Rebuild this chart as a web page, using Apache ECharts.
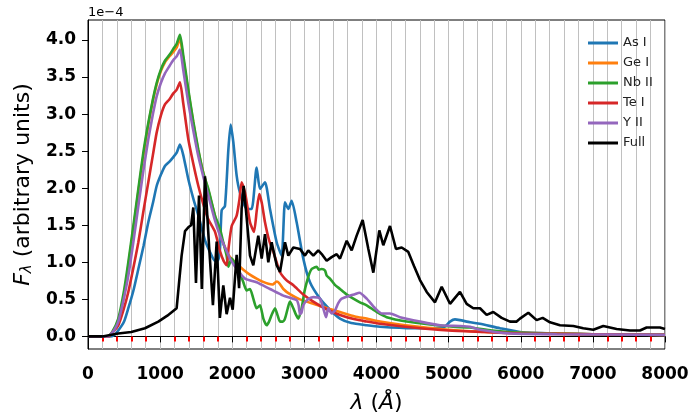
<!DOCTYPE html>
<html>
<head>
<meta charset="utf-8">
<script src="https://cdn.jsdelivr.net/npm/echarts@6/dist/echarts.min.js"></script>
<style>
  html, body { margin: 0; padding: 0; background: #fff; }
  #chart { width: 693px; height: 419px; }
</style>
</head>
<body>
<div id="chart"></div>
<script>
// wavelength (Angstrom), flux in units of 1e-4
const asI = [[0,0],[300,0],[350,0.01],[420,0.08],[500,0.2],[559,0.38],[630,0.62],[698,0.91],[770,1.22],[836,1.54],[900,1.8],[952,2.03],[1010,2.18],[1067,2.3],[1130,2.36],[1183,2.42],[1230,2.48],[1275,2.59],[1320,2.45],[1391,2.12],[1460,1.86],[1530,1.63],[1622,1.3],[1700,1.12],[1760,1.02],[1800,1.02],[1830,1.18],[1853,1.7],[1899,1.76],[1946,2.52],[1978,2.86],[2015,2.62],[2061,2.17],[2107,1.94],[2200,1.72],[2269,1.72],[2338,2.28],[2385,1.99],[2454,2.08],[2523,1.72],[2616,1.27],[2685,1.09],[2731,1.81],[2777,1.72],[2824,1.83],[2893,1.54],[2985,1.05],[3078,0.73],[3216,0.51],[3355,0.36],[3494,0.24],[3650,0.18],[3864,0.15],[4048,0.13],[4500,0.11],[4925,0.12],[5019,0.2],[5088,0.23],[5157,0.22],[5300,0.19],[5435,0.17],[5712,0.11],[5989,0.06],[6500,0.04],[7000,0.03],[8000,0.02]];
const geI = [[0,0],[280,0],[340,0.05],[420,0.22],[500,0.55],[559,0.95],[630,1.45],[698,1.95],[770,2.45],[836,2.85],[900,3.18],[952,3.4],[1010,3.58],[1067,3.7],[1130,3.78],[1183,3.84],[1230,3.9],[1275,4.02],[1320,3.75],[1391,3.3],[1460,2.88],[1530,2.5],[1600,2.2],[1668,1.97],[1761,1.62],[1830,1.38],[1900,1.2],[1969,1.07],[2061,0.98],[2154,0.9],[2250,0.83],[2338,0.78],[2420,0.74],[2500,0.71],[2560,0.7],[2616,0.74],[2650,0.72],[2708,0.64],[2800,0.57],[2939,0.5],[3124,0.44],[3355,0.37],[3494,0.33],[3700,0.27],[3864,0.24],[4048,0.2],[4400,0.15],[5000,0.09],[5500,0.06],[6000,0.05],[7000,0.03],[8000,0.02]];
const nbII = [[0,0],[270,0],[330,0.05],[420,0.24],[500,0.62],[559,1.0],[630,1.5],[698,1.99],[770,2.5],[836,2.88],[900,3.2],[952,3.42],[1010,3.6],[1067,3.72],[1130,3.8],[1183,3.88],[1230,3.95],[1275,4.07],[1320,3.8],[1391,3.33],[1460,2.9],[1530,2.52],[1600,2.2],[1668,1.99],[1761,1.63],[1830,1.45],[1880,1.25],[1922,1.09],[1946,0.94],[1992,1.05],[2030,1.0],[2061,0.96],[2110,0.85],[2154,0.73],[2200,0.62],[2246,0.64],[2292,0.51],[2338,0.38],[2385,0.42],[2431,0.24],[2477,0.15],[2510,0.2],[2546,0.29],[2593,0.38],[2630,0.28],[2662,0.2],[2700,0.2],[2731,0.24],[2770,0.38],[2800,0.47],[2847,0.38],[2880,0.3],[2916,0.24],[2962,0.38],[3000,0.6],[3032,0.73],[3070,0.85],[3101,0.91],[3140,0.93],[3170,0.94],[3200,0.9],[3240,0.91],[3286,0.89],[3309,0.82],[3355,0.78],[3420,0.7],[3494,0.64],[3580,0.57],[3679,0.51],[3770,0.46],[3864,0.42],[4002,0.33],[4141,0.26],[4418,0.2],[4741,0.16],[5065,0.13],[5296,0.12],[5600,0.08],[6000,0.05],[7000,0.03],[8000,0.02]];
const teI = [[0,0],[290,0],[328,0.04],[420,0.15],[490,0.35],[559,0.6],[630,0.93],[698,1.27],[770,1.7],[836,2.08],[900,2.45],[952,2.75],[1010,2.98],[1067,3.13],[1130,3.2],[1183,3.28],[1230,3.33],[1275,3.43],[1320,3.15],[1391,2.66],[1460,2.33],[1530,2.03],[1600,1.78],[1668,1.58],[1761,1.41],[1830,1.15],[1880,1.02],[1922,0.96],[1950,1.2],[1992,1.49],[2061,1.63],[2100,1.85],[2130,2.08],[2160,2.0],[2186,1.9],[2246,1.54],[2301,1.41],[2340,1.7],[2375,1.92],[2410,1.8],[2454,1.54],[2510,1.3],[2570,1.14],[2662,0.87],[2750,0.76],[2847,0.69],[2980,0.57],[3124,0.47],[3300,0.37],[3494,0.29],[3700,0.23],[3864,0.2],[4048,0.17],[4500,0.12],[5000,0.08],[5500,0.06],[6000,0.04],[7000,0.03],[8000,0.02]];
const yII = [[0,0],[280,0],[305,0.02],[360,0.08],[420,0.2],[490,0.48],[559,0.82],[630,1.28],[698,1.76],[770,2.25],[836,2.66],[900,3.0],[952,3.24],[1010,3.42],[1067,3.55],[1130,3.65],[1183,3.73],[1230,3.78],[1275,3.87],[1320,3.6],[1391,3.15],[1460,2.78],[1530,2.43],[1600,2.15],[1668,1.9],[1750,1.6],[1830,1.36],[1900,1.2],[1969,1.05],[2070,0.9],[2177,0.78],[2338,0.73],[2523,0.64],[2708,0.55],[2893,0.49],[2920,0.42],[2939,0.3],[2960,0.32],[2985,0.42],[3050,0.5],[3124,0.53],[3216,0.51],[3262,0.38],[3300,0.26],[3332,0.38],[3378,0.31],[3424,0.35],[3470,0.45],[3517,0.51],[3632,0.55],[3700,0.57],[3762,0.59],[3864,0.51],[3979,0.38],[4071,0.31],[4187,0.31],[4325,0.26],[4603,0.2],[4880,0.15],[5157,0.14],[5296,0.13],[5435,0.09],[5851,0.04],[6500,0.03],[8000,0.02]];
const full = [[0,0],[200,0],[420,0.04],[600,0.06],[790,0.11],[975,0.2],[1100,0.28],[1229,0.38],[1260,0.7],[1298,1.09],[1345,1.42],[1400,1.48],[1430,1.5],[1460,1.74],[1497,0.72],[1539,1.9],[1578,0.64],[1622,2.16],[1680,1.2],[1732,0.42],[1784,1.28],[1828,0.25],[1876,0.69],[1922,0.3],[1969,0.52],[2006,0.36],[2061,1.1],[2095,0.65],[2130,1.72],[2158,2.03],[2200,1.6],[2246,1.09],[2292,0.96],[2361,1.36],[2408,1.05],[2454,1.38],[2500,1.0],[2546,1.27],[2616,0.96],[2662,0.87],[2731,1.27],[2777,1.09],[2847,1.2],[2939,1.18],[3008,1.09],[3054,1.16],[3124,1.09],[3193,1.16],[3250,1.1],[3309,1.02],[3378,1.07],[3448,1.11],[3494,1.05],[3587,1.29],[3656,1.16],[3725,1.36],[3808,1.57],[3887,1.18],[3956,0.86],[4039,1.43],[4094,1.23],[4187,1.49],[4270,1.18],[4349,1.2],[4441,1.14],[4520,0.95],[4603,0.76],[4696,0.6],[4811,0.46],[4904,0.67],[5019,0.44],[5157,0.6],[5250,0.44],[5342,0.38],[5435,0.38],[5527,0.29],[5619,0.33],[5735,0.25],[5851,0.2],[5943,0.2],[5989,0.24],[6105,0.32],[6220,0.22],[6304,0.25],[6405,0.19],[6544,0.15],[6729,0.14],[6867,0.11],[7006,0.09],[7144,0.14],[7329,0.1],[7514,0.08],[7653,0.08],[7745,0.12],[7930,0.12],[8000,0.1]];

const seriesNames = ["As I", "Ge I", "Nb II", "Te I", "Y II", "Full"];
const seriesData = [asI, geI, nbII, teI, yII, full];
const colors = ["#1f77b4", "#ff7f0e", "#2ca02c", "#d62728", "#9467bd", "#000000"];
const yTicks = [0, 0.5, 1.0, 1.5, 2.0, 2.5, 3.0, 3.5, 4.0];

const font = "DejaVu Sans";
const chart = echarts.init(document.getElementById("chart"));

const series = seriesNames.map((name, i) => ({
  name: name,
  type: "line",
  data: seriesData[i],
  symbol: "none",
  smooth: name === "Full" ? false : 0.2,
  lineStyle: { color: colors[i], width: 2.6 },
  itemStyle: { color: colors[i] },
  z: 2 + i,
}));

chart.setOption({
  animation: false,
  textStyle: { fontFamily: font },
  grid: {
    left: 88, right: 28, top: 20, bottom: 69,
    show: true, borderColor: "#000", borderWidth: 1,
    containLabel: false,
  },
  legend: {
    orient: "vertical",
    left: 583, top: 31,
    icon: "rect",
    itemWidth: 30, itemHeight: 3, itemGap: 6,
    data: seriesNames,
    textStyle: { fontFamily: font, fontSize: 13, color: "#222", lineHeight: 14 },
  },
  xAxis: {
    type: "value",
    min: 0, max: 8000, interval: 1000,
    name: "{i|λ} ({i|Å})",
    nameLocation: "middle",
    nameGap: 43,
    nameTextStyle: {
      fontFamily: font, fontSize: 22, color: "#000",
      rich: { i: { fontFamily: font, fontSize: 22, fontStyle: "italic", color: "#000" } },
    },
    axisLine: { lineStyle: { color: "#000", width: 1 } },
    axisTick: { length: 6, lineStyle: { color: "#000" } },
    minorTick: { show: true, splitNumber: 5, length: 5, lineStyle: { color: "#ff0000", width: 2 } },
    splitLine: { show: true, lineStyle: { color: "#c0c0c0", width: 1 } },
    minorSplitLine: { show: true, lineStyle: { color: "#c0c0c0", width: 1 } },
    axisLabel: {
      fontFamily: font, fontSize: 17, fontWeight: "bold", color: "#000", margin: 17,
      formatter: (v) => String(v),
    },
  },
  yAxis: {
    type: "value",
    min: -0.17, max: 4.27,
    name: "{f|F}{s|λ} (arbitrary units)",
    nameLocation: "middle",
    nameGap: 50,
    nameTextStyle: {
      fontFamily: font, fontSize: 22, color: "#000",
      rich: {
        f: { fontFamily: font, fontSize: 22, fontStyle: "italic", color: "#000" },
        s: { fontFamily: font, fontSize: 15, fontStyle: "italic", color: "#000", verticalAlign: "bottom", padding: [9, 0, 0, 0] },
      },
    },
    splitLine: { show: false },
    axisLine: { show: true, lineStyle: { color: "#000", width: 1 } },
    axisTick: { show: true, length: 6, customValues: yTicks, lineStyle: { color: "#000" } },
    axisLabel: {
      fontFamily: font, fontSize: 17, fontWeight: "bold", color: "#000", margin: 12,
      customValues: yTicks,
      formatter: (v) => v.toFixed(1),
    },
  },
  graphic: [
    {
      type: "text", left: 88, top: 6,
      style: { text: "1e\u22124", font: "13px 'DejaVu Sans'", fill: "#000" },
    },
  ],
  series: series,
});
</script>
</body>
</html>
